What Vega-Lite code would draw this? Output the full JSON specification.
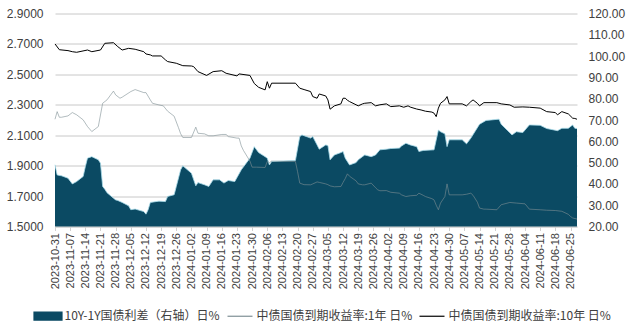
{
"$schema": "https://vega.github.io/schema/vega-lite/v6.json",
"width": 522, "height": 213,
"autosize": "none",
"padding": {"left": 55, "top": 13.5, "right": 53, "bottom": 95.5},
"background": "white",
"config": {"view": {"stroke": null}, "axis": {"labelFont": "Liberation Sans", "labelColor": "#404040", "title": null}},
"datasets": {
"spread": [
{"d":"2023-10-31","v":49.0},{"d":"2023-11-01","v":44.2},{"d":"2023-11-03","v":43.8},{"d":"2023-11-06","v":42.7},{"d":"2023-11-08","v":40.0},{"d":"2023-11-10","v":41.1},{"d":"2023-11-13","v":43.5},{"d":"2023-11-14","v":48.1},{"d":"2023-11-15","v":52.1},{"d":"2023-11-17","v":52.8},{"d":"2023-11-20","v":51.3},{"d":"2023-11-21","v":49.7},{"d":"2023-11-22","v":38.8},{"d":"2023-11-23","v":37.5},{"d":"2023-11-24","v":35.9},{"d":"2023-11-27","v":33.3},{"d":"2023-11-28","v":32.5},{"d":"2023-11-29","v":32.2},{"d":"2023-12-01","v":31.3},{"d":"2023-12-04","v":29.7},{"d":"2023-12-05","v":27.9},{"d":"2023-12-07","v":28.2},{"d":"2023-12-11","v":27.0},{"d":"2023-12-12","v":25.8},{"d":"2023-12-13","v":27.9},{"d":"2023-12-14","v":31.3},{"d":"2023-12-18","v":31.9},{"d":"2023-12-21","v":31.7},{"d":"2023-12-22","v":34.1},{"d":"2023-12-25","v":34.9},{"d":"2023-12-26","v":38.8},{"d":"2023-12-28","v":46.6},{"d":"2023-12-29","v":48.5},
{"d":"2024-01-02","v":45.0},{"d":"2024-01-04","v":39.1},{"d":"2024-01-05","v":40.6},{"d":"2024-01-08","v":39.6},{"d":"2024-01-10","v":38.8},{"d":"2024-01-12","v":41.9},{"d":"2024-01-15","v":41.9},{"d":"2024-01-17","v":40.4},{"d":"2024-01-19","v":41.6},{"d":"2024-01-22","v":41.1},{"d":"2024-01-25","v":46.6},{"d":"2024-01-29","v":52.1},{"d":"2024-01-31","v":57.5},{"d":"2024-02-02","v":54.7},{"d":"2024-02-05","v":52.8},{"d":"2024-02-06","v":52.1},{"d":"2024-02-07","v":48.9},{"d":"2024-02-08","v":50.5},{"d":"2024-02-19","v":51.0},{"d":"2024-02-21","v":62.2},{"d":"2024-02-22","v":63.0},{"d":"2024-02-26","v":61.5},{"d":"2024-02-27","v":62.2},{"d":"2024-02-29","v":58.3},
{"d":"2024-03-01","v":56.3},{"d":"2024-03-04","v":58.3},{"d":"2024-03-05","v":58.0},{"d":"2024-03-06","v":51.3},{"d":"2024-03-08","v":53.6},{"d":"2024-03-11","v":54.7},{"d":"2024-03-12","v":55.2},{"d":"2024-03-13","v":52.1},{"d":"2024-03-15","v":48.9},{"d":"2024-03-18","v":50.0},{"d":"2024-03-19","v":51.3},{"d":"2024-03-22","v":53.6},{"d":"2024-03-25","v":52.8},{"d":"2024-03-27","v":53.6},{"d":"2024-03-29","v":56.0},{"d":"2024-04-01","v":56.3},{"d":"2024-04-03","v":56.6},{"d":"2024-04-07","v":56.8},{"d":"2024-04-08","v":57.8},{"d":"2024-04-10","v":59.1},{"d":"2024-04-12","v":58.3},{"d":"2024-04-15","v":57.5},{"d":"2024-04-16","v":55.2},{"d":"2024-04-18","v":55.7},{"d":"2024-04-23","v":56.0},{"d":"2024-04-25","v":65.3},{"d":"2024-04-26","v":64.5},{"d":"2024-04-28","v":63.5},{"d":"2024-04-29","v":57.5},{"d":"2024-04-30","v":60.7},
{"d":"2024-05-06","v":60.7},{"d":"2024-05-08","v":58.8},{"d":"2024-05-10","v":61.5},{"d":"2024-05-14","v":68.0},{"d":"2024-05-17","v":69.8},{"d":"2024-05-23","v":70.4},{"d":"2024-05-24","v":68.0},{"d":"2024-05-27","v":65.0},{"d":"2024-05-29","v":63.0},{"d":"2024-05-31","v":64.5},{"d":"2024-06-03","v":64.1},{"d":"2024-06-04","v":65.3},{"d":"2024-06-06","v":67.7},{"d":"2024-06-11","v":67.5},{"d":"2024-06-14","v":66.0},{"d":"2024-06-19","v":65.0},{"d":"2024-06-21","v":66.1},{"d":"2024-06-24","v":66.1},{"d":"2024-06-26","v":67.7},{"d":"2024-06-27","v":66.1},{"d":"2024-06-28","v":66.0}
],
"y10": [
{"d":"2023-10-31","v":2.700},{"d":"2023-11-02","v":2.662},{"d":"2023-11-06","v":2.656},{"d":"2023-11-08","v":2.649},{"d":"2023-11-10","v":2.645},{"d":"2023-11-15","v":2.660},{"d":"2023-11-17","v":2.649},{"d":"2023-11-21","v":2.660},{"d":"2023-11-23","v":2.704},{"d":"2023-11-27","v":2.708},{"d":"2023-11-29","v":2.682},{"d":"2023-12-01","v":2.660},{"d":"2023-12-04","v":2.671},{"d":"2023-12-07","v":2.665},{"d":"2023-12-11","v":2.649},{"d":"2023-12-12","v":2.634},{"d":"2023-12-14","v":2.628},{"d":"2023-12-15","v":2.621},{"d":"2023-12-19","v":2.621},{"d":"2023-12-21","v":2.595},{"d":"2023-12-22","v":2.584},{"d":"2023-12-26","v":2.573},{"d":"2023-12-29","v":2.557},
{"d":"2024-01-02","v":2.555},{"d":"2024-01-03","v":2.551},{"d":"2024-01-05","v":2.518},{"d":"2024-01-09","v":2.493},{"d":"2024-01-12","v":2.518},{"d":"2024-01-16","v":2.524},{"d":"2024-01-18","v":2.507},{"d":"2024-01-23","v":2.490},{"d":"2024-01-24","v":2.503},{"d":"2024-01-29","v":2.493},{"d":"2024-01-31","v":2.440},{"d":"2024-02-02","v":2.415},{"d":"2024-02-05","v":2.398},{"d":"2024-02-06","v":2.452},{"d":"2024-02-07","v":2.409},{"d":"2024-02-08","v":2.442},{"d":"2024-02-19","v":2.442},{"d":"2024-02-21","v":2.409},{"d":"2024-02-23","v":2.400},{"d":"2024-02-26","v":2.387},{"d":"2024-02-27","v":2.354},{"d":"2024-02-29","v":2.343},
{"d":"2024-03-01","v":2.371},{"d":"2024-03-04","v":2.358},{"d":"2024-03-05","v":2.332},{"d":"2024-03-06","v":2.271},{"d":"2024-03-08","v":2.293},{"d":"2024-03-11","v":2.306},{"d":"2024-03-12","v":2.343},{"d":"2024-03-13","v":2.343},{"d":"2024-03-14","v":2.330},{"d":"2024-03-15","v":2.321},{"d":"2024-03-18","v":2.300},{"d":"2024-03-19","v":2.293},{"d":"2024-03-21","v":2.306},{"d":"2024-03-22","v":2.310},{"d":"2024-03-25","v":2.314},{"d":"2024-03-27","v":2.293},{"d":"2024-03-29","v":2.300},{"d":"2024-04-01","v":2.306},{"d":"2024-04-03","v":2.288},{"d":"2024-04-07","v":2.293},{"d":"2024-04-09","v":2.284},{"d":"2024-04-11","v":2.293},{"d":"2024-04-12","v":2.285},{"d":"2024-04-15","v":2.272},{"d":"2024-04-17","v":2.266},{"d":"2024-04-19","v":2.258},{"d":"2024-04-22","v":2.252},{"d":"2024-04-23","v":2.245},{"d":"2024-04-24","v":2.222},{"d":"2024-04-25","v":2.278},{"d":"2024-04-26","v":2.310},{"d":"2024-04-28","v":2.332},{"d":"2024-04-29","v":2.354},{"d":"2024-04-30","v":2.306},
{"d":"2024-05-06","v":2.306},{"d":"2024-05-08","v":2.293},{"d":"2024-05-10","v":2.321},{"d":"2024-05-11","v":2.332},{"d":"2024-05-13","v":2.310},{"d":"2024-05-14","v":2.293},{"d":"2024-05-16","v":2.314},{"d":"2024-05-22","v":2.314},{"d":"2024-05-24","v":2.306},{"d":"2024-05-28","v":2.299},{"d":"2024-05-30","v":2.284},{"d":"2024-06-03","v":2.286},{"d":"2024-06-06","v":2.284},{"d":"2024-06-11","v":2.278},{"d":"2024-06-14","v":2.255},{"d":"2024-06-18","v":2.249},{"d":"2024-06-19","v":2.234},{"d":"2024-06-21","v":2.255},{"d":"2024-06-24","v":2.240},{"d":"2024-06-26","v":2.212},{"d":"2024-06-27","v":2.210},{"d":"2024-06-28","v":2.205}
],
"y1": [
{"d":"2023-10-31","v":2.205},{"d":"2023-11-01","v":2.255},{"d":"2023-11-02","v":2.218},{"d":"2023-11-03","v":2.218},{"d":"2023-11-06","v":2.227},{"d":"2023-11-08","v":2.249},{"d":"2023-11-10","v":2.234},{"d":"2023-11-13","v":2.201},{"d":"2023-11-15","v":2.157},{"d":"2023-11-17","v":2.124},{"d":"2023-11-20","v":2.157},{"d":"2023-11-22","v":2.310},{"d":"2023-11-24","v":2.332},{"d":"2023-11-27","v":2.390},{"d":"2023-11-28","v":2.365},{"d":"2023-11-30","v":2.343},{"d":"2023-12-01","v":2.350},{"d":"2023-12-05","v":2.387},{"d":"2023-12-07","v":2.400},{"d":"2023-12-11","v":2.380},{"d":"2023-12-12","v":2.380},{"d":"2023-12-14","v":2.332},{"d":"2023-12-15","v":2.310},{"d":"2023-12-18","v":2.299},{"d":"2023-12-20","v":2.293},{"d":"2023-12-22","v":2.258},{"d":"2023-12-25","v":2.225},{"d":"2023-12-27","v":2.150},{"d":"2023-12-28","v":2.110},{"d":"2023-12-29","v":2.085},
{"d":"2024-01-02","v":2.085},{"d":"2024-01-04","v":2.153},{"d":"2024-01-05","v":2.113},{"d":"2024-01-08","v":2.109},{"d":"2024-01-10","v":2.096},{"d":"2024-01-12","v":2.096},{"d":"2024-01-16","v":2.105},{"d":"2024-01-18","v":2.105},{"d":"2024-01-19","v":2.091},{"d":"2024-01-23","v":2.081},{"d":"2024-01-24","v":2.081},{"d":"2024-01-25","v":2.030},{"d":"2024-01-26","v":2.000},{"d":"2024-01-29","v":1.930},{"d":"2024-01-30","v":1.890},{"d":"2024-02-01","v":1.890},{"d":"2024-02-05","v":1.888},{"d":"2024-02-06","v":1.927},{"d":"2024-02-07","v":1.920},{"d":"2024-02-08","v":1.930},{"d":"2024-02-19","v":1.927},{"d":"2024-02-20","v":1.860},{"d":"2024-02-21","v":1.785},{"d":"2024-02-23","v":1.775},{"d":"2024-02-26","v":1.774},{"d":"2024-02-27","v":1.780},{"d":"2024-02-29","v":1.793},
{"d":"2024-03-01","v":1.790},{"d":"2024-03-04","v":1.780},{"d":"2024-03-05","v":1.775},{"d":"2024-03-06","v":1.767},{"d":"2024-03-08","v":1.761},{"d":"2024-03-11","v":1.763},{"d":"2024-03-12","v":1.790},{"d":"2024-03-13","v":1.815},{"d":"2024-03-14","v":1.846},{"d":"2024-03-15","v":1.830},{"d":"2024-03-18","v":1.800},{"d":"2024-03-19","v":1.780},{"d":"2024-03-21","v":1.774},{"d":"2024-03-22","v":1.774},{"d":"2024-03-25","v":1.785},{"d":"2024-03-27","v":1.755},{"d":"2024-03-28","v":1.741},{"d":"2024-03-29","v":1.735},{"d":"2024-04-01","v":1.736},{"d":"2024-04-03","v":1.725},{"d":"2024-04-07","v":1.719},{"d":"2024-04-08","v":1.708},{"d":"2024-04-10","v":1.697},{"d":"2024-04-12","v":1.702},{"d":"2024-04-15","v":1.705},{"d":"2024-04-16","v":1.719},{"d":"2024-04-18","v":1.705},{"d":"2024-04-19","v":1.697},{"d":"2024-04-22","v":1.683},{"d":"2024-04-23","v":1.675},{"d":"2024-04-24","v":1.640},{"d":"2024-04-25","v":1.610},{"d":"2024-04-26","v":1.654},{"d":"2024-04-28","v":1.697},{"d":"2024-04-29","v":1.780},{"d":"2024-04-30","v":1.708},
{"d":"2024-05-06","v":1.708},{"d":"2024-05-08","v":1.712},{"d":"2024-05-10","v":1.719},{"d":"2024-05-11","v":1.705},{"d":"2024-05-13","v":1.660},{"d":"2024-05-14","v":1.621},{"d":"2024-05-16","v":1.614},{"d":"2024-05-17","v":1.614},{"d":"2024-05-22","v":1.610},{"d":"2024-05-24","v":1.643},{"d":"2024-05-28","v":1.658},{"d":"2024-05-31","v":1.654},{"d":"2024-06-04","v":1.649},{"d":"2024-06-06","v":1.614},{"d":"2024-06-11","v":1.610},{"d":"2024-06-14","v":1.607},{"d":"2024-06-18","v":1.605},{"d":"2024-06-21","v":1.600},{"d":"2024-06-24","v":1.580},{"d":"2024-06-25","v":1.566},{"d":"2024-06-26","v":1.556},{"d":"2024-06-28","v":1.549}
]
},
"encoding": {
  "x": {"field": "d", "type": "temporal", "title": null, "scale": {"type": "utc", "domain": [{"year":2023,"month":10,"date":31,"utc":true},{"year":2024,"month":6,"date":28,"utc":true}]},
   "axis": {"values": [{"year":2023,"month":10,"date":31,"utc":true},{"year":2023,"month":11,"date":7,"utc":true},{"year":2023,"month":11,"date":14,"utc":true},{"year":2023,"month":11,"date":21,"utc":true},{"year":2023,"month":11,"date":28,"utc":true},{"year":2023,"month":12,"date":5,"utc":true},{"year":2023,"month":12,"date":12,"utc":true},{"year":2023,"month":12,"date":19,"utc":true},{"year":2023,"month":12,"date":26,"utc":true},{"year":2024,"month":1,"date":2,"utc":true},{"year":2024,"month":1,"date":9,"utc":true},{"year":2024,"month":1,"date":16,"utc":true},{"year":2024,"month":1,"date":23,"utc":true},{"year":2024,"month":1,"date":30,"utc":true},{"year":2024,"month":2,"date":6,"utc":true},{"year":2024,"month":2,"date":13,"utc":true},{"year":2024,"month":2,"date":20,"utc":true},{"year":2024,"month":2,"date":27,"utc":true},{"year":2024,"month":3,"date":5,"utc":true},{"year":2024,"month":3,"date":12,"utc":true},{"year":2024,"month":3,"date":19,"utc":true},{"year":2024,"month":3,"date":26,"utc":true},{"year":2024,"month":4,"date":2,"utc":true},{"year":2024,"month":4,"date":9,"utc":true},{"year":2024,"month":4,"date":16,"utc":true},{"year":2024,"month":4,"date":23,"utc":true},{"year":2024,"month":4,"date":30,"utc":true},{"year":2024,"month":5,"date":7,"utc":true},{"year":2024,"month":5,"date":14,"utc":true},{"year":2024,"month":5,"date":21,"utc":true},{"year":2024,"month":5,"date":28,"utc":true},{"year":2024,"month":6,"date":4,"utc":true},{"year":2024,"month":6,"date":11,"utc":true},{"year":2024,"month":6,"date":18,"utc":true},{"year":2024,"month":6,"date":25,"utc":true}],
    "format": "%Y-%m-%d", "labelAngle": -90, "labelFontSize": 11, "labelPadding": 2, "tickSize": 4, "tickColor": "#d0d0d0", "domainColor": "#d0d0d0", "grid": false, "title": null, "labelFlush": false, "labelOverlap": false, "labelBound": false}}
},
"layer": [
{"encoding": {"y": {"field": "v", "type": "quantitative", "title": null, "scale": {"domain": [20, 120], "zero": false, "nice": false},
   "axis": {"orient": "right", "values": [20,30,40,50,60,70,80,90,100,110,120], "format": ".2f", "grid": false, "domain": false, "ticks": false, "labelPadding": 11, "labelFontSize": 12, "labelFlush": false, "title": null}}},
 "layer": [
{"data": {"name": "spread"}, "mark": {"type": "area", "interpolate": "linear"},
 "encoding": {
  "y2": {"datum": 20},
  "color": {"datum": "10Y-1Y国债利差（右轴）日%",
   "scale": {"domain": ["10Y-1Y国债利差（右轴）日%", "中债国债到期收益率:1年 日%", "中债国债到期收益率:10年 日%"], "range": ["#0b4a63", "#7f8f95", "#000000"]},
   "legend": {"orient": "none", "legendX": -20.5, "legendY": 289, "direction": "horizontal", "title": null, "symbolSize": 625, "labelFont": "Noto Sans CJK SC", "labelFontSize": 12, "labelColor": "#404040", "labelOffset": 3, "columnPadding": 4, "labelLimit": 300,
    "encode": {"symbols": {"update": {
      "shape": {"signal": "datum.value === '10Y-1Y国债利差（右轴）日%' ? 'M-1.12,-0.32H1.12V0.32H-1.12Z' : 'stroke'"},
      "fill": {"signal": "datum.value === '10Y-1Y国债利差（右轴）日%' ? '#0b4a63' : 'transparent'"},
      "stroke": {"signal": "datum.value === '10Y-1Y国债利差（右轴）日%' ? '#0b4a63' : (datum.value === '中债国债到期收益率:1年 日%' ? '#a0a0a0' : '#000000')"},
      "strokeWidth": {"value": 1.2}, "opacity": {"value": 1}, "fillOpacity": {"value": 1}, "strokeOpacity": {"value": 1}}}}}}
 }},
{"data": {"name": "spread"}, "mark": {"type": "line", "color": "#a9dcea", "strokeWidth": 0.8}}
]},
{"encoding": {"y": {"field": "v", "type": "quantitative", "title": null, "scale": {"domain": [1.5, 2.9], "zero": false, "nice": false},
   "axis": {"orient": "left", "values": [1.5,1.7,1.9,2.1,2.3,2.5,2.7,2.9], "format": ".4f", "grid": true, "gridColor": "#c8c8c8", "gridWidth": 1, "domain": false, "ticks": false, "labelPadding": 12, "labelFontSize": 12, "labelFlush": false, "title": null}}},
 "layer": [
{"data": {"name": "y1"}, "mark": {"type": "line", "strokeWidth": 1, "opacity": 0.6},
 "encoding": {"color": {"datum": "中债国债到期收益率:1年 日%"}}},
{"data": {"name": "y10"}, "mark": {"type": "line", "strokeWidth": 1},
 "encoding": {"color": {"datum": "中债国债到期收益率:10年 日%"}}}
]}
],
"resolve": {"scale": {"y": "independent"}}
}
